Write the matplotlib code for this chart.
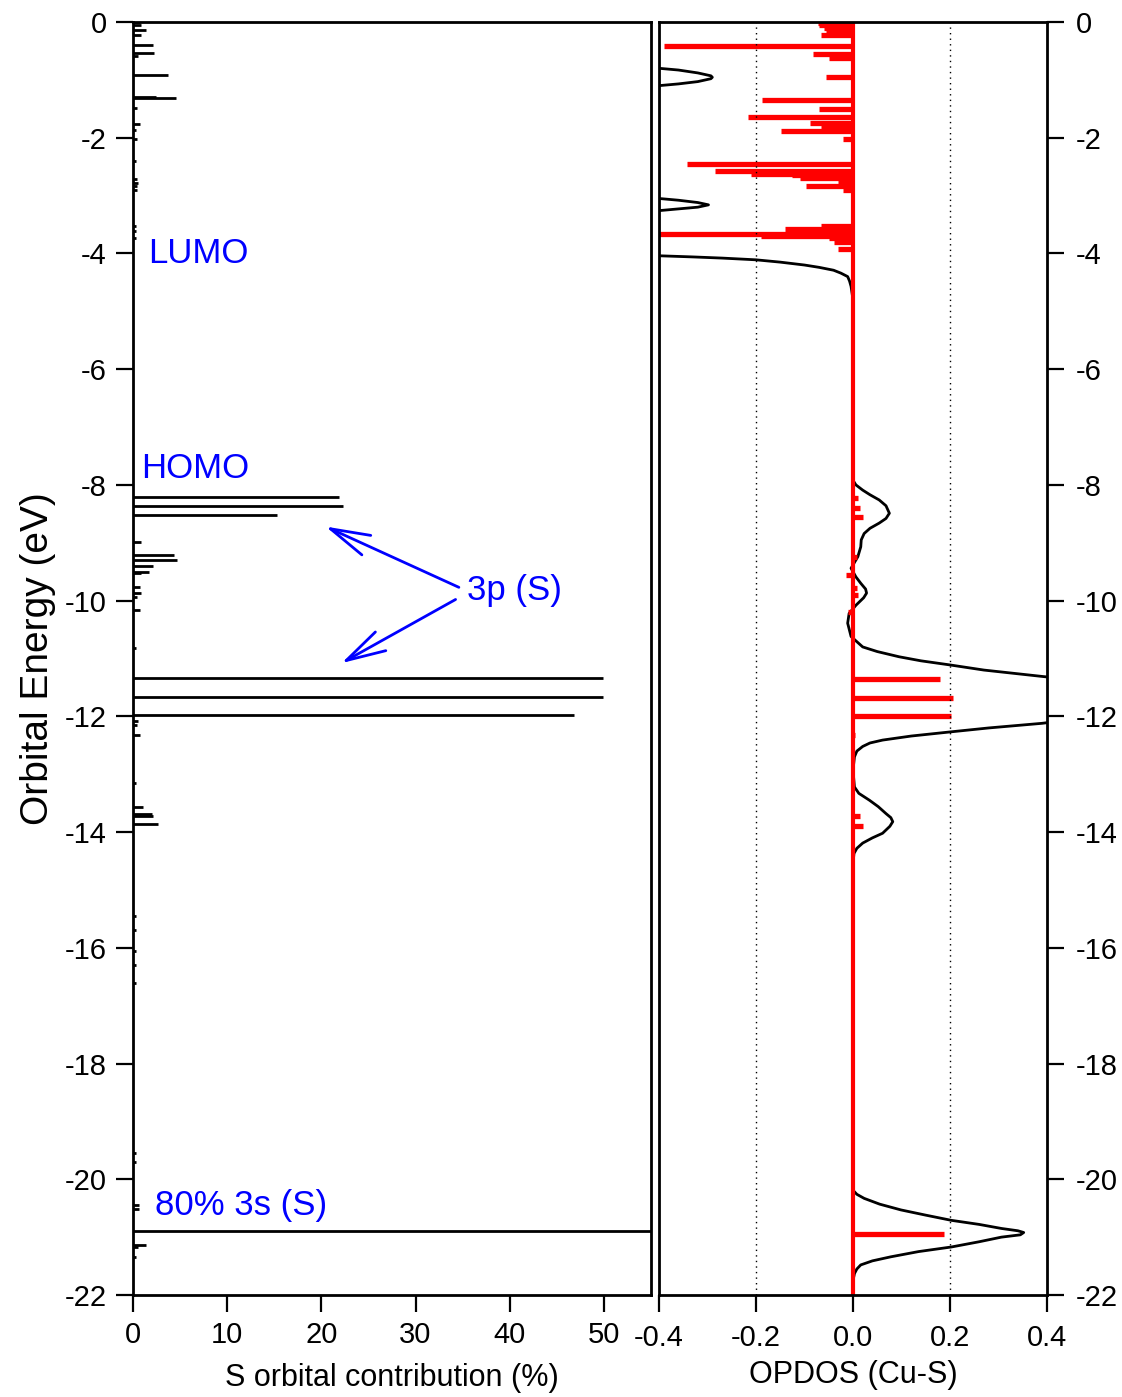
import numpy as np
import matplotlib
matplotlib.use('Agg')
import matplotlib.pyplot as plt

plt.rcParams['font.family'] = ['Liberation Sans', 'DejaVu Sans']
plt.rcParams['axes.unicode_minus'] = False

# left panel: S orbital contribution (%) per orbital energy (eV)
s_E = [0.0, -0.05, -0.14, -0.22, -0.40, -0.54, -0.58, -0.92, -1.29, -1.32, -1.49, -1.77,
       -1.87, -2.02, -2.41, -2.72, -2.78, -2.84, -2.90, -3.52, -3.62, -3.74,
       -8.21, -8.37, -8.52, -8.98, -9.21, -9.29, -9.40, -9.50, -9.53, -9.76, -9.87,
       -9.93, -10.16, -10.82, -11.33, -11.66, -11.97, -12.08, -12.15, -12.32,
       -13.15, -13.56, -13.68, -13.73, -13.86, -15.45, -15.7, -16.05, -16.3, -16.6,
       -19.55, -19.7, -20.45, -20.52, -20.90, -21.13, -21.17, -21.35]
s_pct = [0.7, 0.8, 1.35, 0.85, 2.16, 2.26, 0.5, 3.75, 2.4, 4.6, 0.4, 0.75,
         0.35, 0.4, 0.35, 0.45, 0.5, 0.45, 0.4, 0.3, 0.3, 0.3,
         21.9, 22.3, 15.3, 0.85, 4.35, 4.7, 2.16, 1.73, 0.9, 0.75, 0.85,
         0.4, 0.75, 0.35, 49.9, 49.9, 46.8, 0.5, 0.4, 0.75,
         0.3, 1.1, 2.0, 2.16, 2.7, 0.3, 0.3, 0.3, 0.3, 0.3,
         0.3, 0.3, 0.6, 0.6, 80.0, 1.36, 0.5, 0.3]

# right panel: OPDOS (Cu-S) sticks
op_E = [-0.01, -0.05, -0.10, -0.14, -0.22, -0.42, -0.56, -0.63, -0.945, -1.35, -1.51,
        -1.64, -1.74, -1.80, -1.88, -2.03, -2.46, -2.58, -2.62, -2.64, -2.70, -2.76,
        -2.83, -2.90, -3.53, -3.57, -3.62, -3.66, -3.70, -3.74, -3.80, -3.93,
        -8.23, -8.40, -8.55, -9.24, -9.55, -9.79, -9.90, -10.19, -11.36, -11.69,
        -11.99, -12.32, -13.58, -13.73, -13.90, -20.94]
op_val = [-0.073, -0.07, -0.06, -0.056, -0.065, -0.39, -0.082, -0.05, -0.055, -0.188, -0.071,
          -0.217, -0.089, -0.067, -0.148, -0.02, -0.343, -0.284, -0.21, -0.125, -0.11, -0.03,
          -0.096, -0.02, -0.067, -0.14, -0.05, -0.41, -0.19, -0.05, -0.04, -0.03,
          0.01, 0.014, 0.02, 0.009, -0.014, 0.009, 0.01, -0.011, 0.179, 0.207,
          0.203, 0.005, -0.003, 0.014, 0.02, 0.187]

# broadened OPDOS curve
curve_E = [0.0, -0.40, -0.70, -0.80, -0.83, -0.88, -0.93, -0.955, -0.98, -1.03, -1.07,
           -1.10, -1.20, -2.00, -2.95, -3.05, -3.08, -3.12, -3.16, -3.20, -3.23, -3.26,
           -3.35, -3.70, -3.98, -4.04, -4.06, -4.08, -4.11, -4.15, -4.20, -4.24, -4.29,
           -4.34, -4.40, -4.48, -4.57, -4.80, -7.50, -7.92, -8.00, -8.09, -8.17, -8.26,
           -8.36, -8.49, -8.58, -8.66, -8.75, -8.84, -8.95, -9.07, -9.24, -9.44, -9.59,
           -9.70, -9.80, -9.87, -9.95, -10.08, -10.22, -10.39, -10.62, -10.80, -10.88,
           -10.97, -11.04, -11.11, -11.20, -11.31, -11.45, -11.70, -11.95, -12.12,
           -12.20, -12.27, -12.34, -12.41, -12.46, -12.52, -12.60, -12.70, -12.93,
           -13.22, -13.33, -13.45, -13.56, -13.68, -13.75, -13.82, -13.90, -14.02,
           -14.10, -14.19, -14.28, -14.37, -14.54, -19.50, -20.00, -20.19, -20.26,
           -20.33, -20.43, -20.53, -20.62, -20.71, -20.78, -20.85, -20.89, -20.92,
           -20.96, -21.00, -21.08, -21.17, -21.25, -21.34, -21.41, -21.48, -21.55,
           -21.63, -21.75, -22.0]
curve_v = [-0.70, -0.60, -0.46, -0.40, -0.36, -0.32, -0.293, -0.29, -0.293, -0.32, -0.36,
           -0.40, -0.50, -1.0, -0.50, -0.40, -0.36, -0.32, -0.298, -0.32, -0.36, -0.40,
           -0.50, -1.0, -0.50, -0.40, -0.33, -0.27, -0.20, -0.15, -0.10, -0.07, -0.04,
           -0.025, -0.011, -0.007, -0.004, 0.0, 0.0, 0.0, 0.006, 0.02, 0.035, 0.054,
           0.068, 0.075, 0.068, 0.054, 0.035, 0.023, 0.017, 0.016, 0.010, -0.004, 0.006,
           0.016, 0.026, 0.028, 0.022, 0.006, -0.008, -0.011, -0.004, 0.02, 0.05,
           0.095, 0.14, 0.199, 0.27, 0.39, 0.55, 0.70, 0.55, 0.39,
           0.28, 0.199, 0.12, 0.061, 0.035, 0.02, 0.008, 0.003, 0.0,
           0.003, 0.012, 0.034, 0.052, 0.068, 0.078, 0.082, 0.076, 0.061,
           0.04, 0.02, 0.008, 0.002, 0.0, 0.0, 0.0, 0.0, 0.008,
           0.023, 0.055, 0.099, 0.15, 0.203, 0.26, 0.306, 0.34, 0.352,
           0.345, 0.306, 0.26, 0.203, 0.135, 0.078, 0.04, 0.016, 0.008,
           0.003, 0.0, 0.0]

yticks = list(range(0, -23, -2))
tick_fs = 21

fig = plt.figure(figsize=(11.22, 13.97), dpi=100)
W, H = 1122, 1397
bot = 1 - 1295 / H
hgt = (1295 - 22) / H
ax1 = fig.add_axes([133 / W, bot, (651 - 133) / W, hgt])
ax2 = fig.add_axes([659 / W, bot, (1047 - 659) / W, hgt])

# left panel
ax1.hlines(s_E, 0, s_pct, color='black', lw=2)
ax1.set_xlim(0, 55)
ax1.set_ylim(-22, 0)
ax1.set_xticks([0, 10, 20, 30, 40, 50])
ax1.set_yticks(yticks)
ax1.tick_params(direction='out', length=12, width=1.6, labelsize=tick_fs, pad=7,
                top=False, right=False)
ax1.set_xlabel('S orbital contribution (%)', fontsize=22, labelpad=10)
ax1.set_ylabel('Orbital Energy (eV)', fontsize=28, labelpad=6)

blue_fs = 25
ax1.text(1.6, -4.0, 'LUMO', color='blue', fontsize=blue_fs, va='center', ha='left')
ax1.text(0.85, -7.71, 'HOMO', color='blue', fontsize=blue_fs, va='center', ha='left')
ax1.text(35.5, -9.82, '3p (S)', color='blue', fontsize=blue_fs, va='center', ha='left')
ax1.text(2.3, -20.46, '80% 3s (S)', color='blue', fontsize=blue_fs, va='center', ha='left')
arrow = dict(arrowstyle='->,head_length=1.42,head_width=0.385', color='blue', lw=2,
             mutation_scale=20, shrinkA=0, shrinkB=0)
ax1.annotate('', xy=(20.45, -8.72), xytext=(34.6, -9.77), arrowprops=arrow)
ax1.annotate('', xy=(22.14, -11.08), xytext=(34.25, -9.98), arrowprops=arrow)

# right panel
ax2.plot(curve_v, curve_E, color='black', lw=2)
ax2.axvline(0, color='red', lw=3)
ax2.hlines(op_E, 0, op_val, color='red', lw=3.8)
for xv in (-0.2, 0.2):
    ax2.axvline(xv, color='black', lw=1, ls=(0, (1, 3)))
ax2.set_xlim(-0.4, 0.4)
ax2.set_ylim(-22, 0)
ax2.set_xticks([-0.4, -0.2, 0.0, 0.2, 0.4])
ax2.set_xticklabels(['%.1f' % v for v in [-0.4, -0.2, 0.0, 0.2, 0.4]])
ax2.set_yticks(yticks)
ax2.yaxis.tick_right()
ax2.tick_params(direction='out', length=12, width=1.6, labelsize=tick_fs, pad=9,
                left=False, top=False)
ax2.set_xlabel('OPDOS (Cu-S)', fontsize=22, labelpad=6)

for ax in (ax1, ax2):
    for sp in ax.spines.values():
        sp.set_linewidth(2)

fig.savefig('out.png', dpi=100)
